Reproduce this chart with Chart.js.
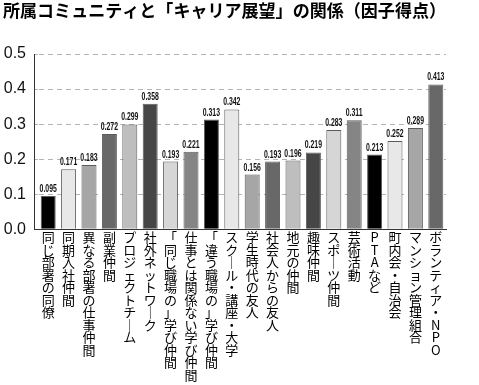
<!DOCTYPE html>
<html><head><meta charset="utf-8">
<script src="https://cdn.jsdelivr.net/npm/chart.js@4/dist/chart.umd.min.js"></script>
<style>html,body{margin:0;padding:0;background:#fff;}canvas{display:block;}</style>
</head><body>
<canvas id="c" width="479" height="385"></canvas>
<script>
const TITLE = '所属コミュニティと「キャリア展望」の関係（因子得点）';
const categories = ['同じ部署の同僚','同期入社仲間','異なる部署の仕事仲間','副業仲間','プロジェクトチーム','社外ネットワーク','「同じ職場の」学び仲間','仕事とは関係ない学び仲間','「違う職場の」学び仲間','スクール・講座・大学','学生時代の友人','社会人からの友人','地元の仲間','趣味仲間','スポーツ仲間','芸術活動','PTAなど','町内会・自治会','マンション管理組合','ボランティア・NPO'];
const scores = [0.095,0.171,0.183,0.272,0.299,0.358,0.193,0.221,0.313,0.342,0.156,0.193,0.196,0.219,0.283,0.311,0.213,0.252,0.289,0.413];
const shades = ['#000000','#e8e8e8','#a6a6a6','#686868','#bebebe','#464646','#d6d6d6','#858585'];
const yTicks = [0, 0.1, 0.2, 0.3, 0.4, 0.5];

const verticalChars = s => Array.from(s).map(ch => ch === 'ー' ? '｜' : ch);

const valueLabels = {
  id: 'valueLabels',
  afterDatasetsDraw(chart) {
    const ctx = chart.ctx;
    const meta = chart.getDatasetMeta(0);
    ctx.save();
    ctx.fillStyle = '#111';
    ctx.font = 'bold 11.5px "Liberation Sans", Arial, sans-serif';
    ctx.textAlign = 'center';
    ctx.textBaseline = 'alphabetic';
    meta.data.forEach((bar, i) => {
      ctx.save();
      ctx.translate(bar.x, bar.y - 4);
      ctx.scale(0.6, 1);
      ctx.fillText(scores[i].toFixed(3), 0, 0);
      ctx.restore();
    });
    ctx.restore();
  }
};

const setTicks = scale => { scale.ticks = yTicks.map(v => ({ value: v })); };

new Chart(document.getElementById('c'), {
  type: 'bar',
  data: {
    labels: categories,
    datasets: [{
      data: scores,
      backgroundColor: categories.map((_, i) => shades[i % shades.length]),
      borderColor: '#5a5a5a',
      borderWidth: 1,
      barPercentage: 0.735,
      categoryPercentage: 1,
      yAxisID: 'y'
    }]
  },
  options: {
    responsive: false,
    animation: false,
    devicePixelRatio: 1,
    layout: { padding: { left: 3, right: 33, top: 0, bottom: 2 } },
    plugins: {
      legend: { display: false },
      tooltip: { enabled: false },
      title: {
        display: true,
        text: TITLE,
        align: 'start',
        color: '#000',
        font: { family: '"Noto Sans CJK JP", sans-serif', size: 17.5, weight: 'bold', lineHeight: 1.2 },
        padding: { top: 0, bottom: 33 }
      }
    },
    scales: {
      x: {
        offset: true,
        grid: { display: false, drawTicks: false },
        border: { display: true, color: '#333', width: 1 },
        ticks: {
          autoSkip: false,
          maxRotation: 0,
          minRotation: 0,
          padding: 2,
          color: '#000',
          font: { family: '"Noto Sans CJK JP", sans-serif', size: 13, lineHeight: 0.96 },
          callback(value) { return verticalChars(this.getLabelForValue(value)); }
        }
      },
      y: {
        position: 'left',
        weight: 10,
        min: 0, max: 0.5,
        afterBuildTicks: setTicks,
        afterFit: scale => { scale.width = 31; },
        grid: {
          drawTicks: false,
          lineWidth: 1,
          color: c => (c.tick && c.tick.value === 0) ? 'rgba(0,0,0,0)' : '#b4b4b4'
        },
        border: { display: true, color: '#333', width: 1, dash: [5, 4] },
        ticks: {
          padding: 8,
          color: '#111',
          font: { family: '"Liberation Sans", Arial, sans-serif', size: 16 },
          callback: v => Number(v).toFixed(1)
        }
      },
      y2: {
        position: 'left',
        weight: 0,
        min: 0, max: 0.5,
        afterBuildTicks: setTicks,
        grid: {
          display: true,
          drawOnChartArea: false,
          drawTicks: true,
          tickLength: 4,
          tickColor: c => (c.tick && c.tick.value === 0) ? '#333' : '#b4b4b4'
        },
        border: { display: false },
        ticks: { display: false }
      }
    }
  },
  plugins: [valueLabels]
});
</script>
</body></html>
